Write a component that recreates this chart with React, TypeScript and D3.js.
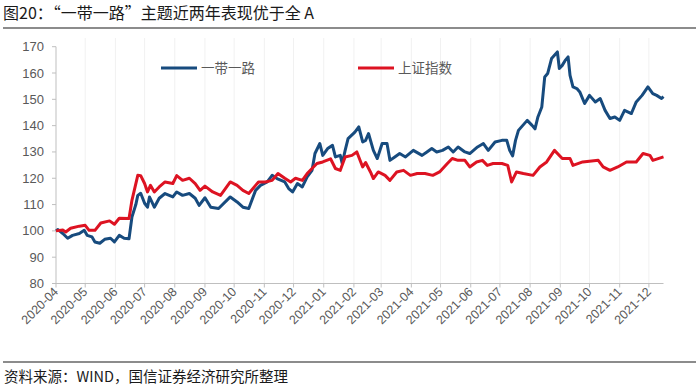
import React from "react";
import * as d3 from "d3";

// "一带一路" theme index (approx.)
const beltDates = [
  "2020-04-01", "2020-04-03", "2020-04-08", "2020-04-13", "2020-04-18", "2020-04-25", "2020-04-30",
  "2020-05-03", "2020-05-08", "2020-05-11", "2020-05-16", "2020-05-21", "2020-05-27", "2020-05-31",
  "2020-06-05", "2020-06-10", "2020-06-15", "2020-06-18", "2020-06-22", "2020-06-24", "2020-06-27",
  "2020-07-01", "2020-07-04", "2020-07-06", "2020-07-11", "2020-07-16", "2020-07-22", "2020-07-30",
  "2020-08-03", "2020-08-09", "2020-08-16", "2020-08-22", "2020-08-26", "2020-09-01", "2020-09-07",
  "2020-09-15", "2020-09-27", "2020-10-04", "2020-10-10", "2020-10-16", "2020-10-23", "2020-10-28",
  "2020-11-04", "2020-11-09", "2020-11-14", "2020-11-22", "2020-11-26", "2020-11-30", "2020-12-05",
  "2020-12-10", "2020-12-15", "2020-12-20", "2020-12-23", "2020-12-28", "2020-12-31", "2021-01-05",
  "2021-01-10", "2021-01-13", "2021-01-18", "2021-01-20", "2021-01-23", "2021-01-26", "2021-02-02",
  "2021-02-06", "2021-02-10", "2021-02-13", "2021-02-16", "2021-02-21", "2021-02-25", "2021-03-02",
  "2021-03-07", "2021-03-10", "2021-03-15", "2021-03-20", "2021-03-26", "2021-04-03", "2021-04-12",
  "2021-04-17", "2021-04-22", "2021-04-27", "2021-05-03", "2021-05-09", "2021-05-14", "2021-05-19",
  "2021-05-26", "2021-05-31", "2021-06-08", "2021-06-14", "2021-06-19", "2021-06-26", "2021-07-03",
  "2021-07-08", "2021-07-11", "2021-07-14", "2021-07-17", "2021-07-20", "2021-07-29", "2021-08-03",
  "2021-08-06", "2021-08-09", "2021-08-13", "2021-08-16", "2021-08-19", "2021-08-23", "2021-08-29",
  "2021-08-31", "2021-09-03", "2021-09-06", "2021-09-09", "2021-09-11", "2021-09-14", "2021-09-18",
  "2021-09-21", "2021-09-26", "2021-10-01", "2021-10-07", "2021-10-12", "2021-10-17", "2021-10-22",
  "2021-10-27", "2021-11-01", "2021-11-06", "2021-11-13", "2021-11-18", "2021-11-24", "2021-11-30",
  "2021-12-05", "2021-12-09", "2021-12-14", "2021-12-16",
];
const beltValues = [
  100, 100.5, 99, 97.2, 98.3, 99, 100.2,
  98.3, 97.7, 95.8, 95.3, 96.8, 97.2, 95.8,
  98.3, 97.2, 97, 105.3, 110, 113.5, 114.3,
  110.5, 109, 112.9, 109, 112.4, 114.2, 112.9,
  114.8, 113.5, 114.2, 112.4, 109.7, 112.6, 109,
  108.5, 112.9, 111, 109, 108.5, 115.4, 117.3,
  118.6, 121.1, 119.9, 118.6, 116.1, 114.8, 118,
  116.7, 120.5, 123, 129.4, 133.2, 128.7, 131.3,
  132.5, 128.1, 128.7, 125.6, 130.6, 135.1, 137.5,
  139.5, 133.8, 134.4, 137, 130.6, 127.5, 133.2,
  133.2, 126.8, 128.1, 129.4, 128.1, 130.6, 128.7,
  130, 131.3, 130, 130.6, 131.9, 130, 131.9,
  130, 129.4, 131.9, 133.2, 130.6, 133.8, 134.4,
  134.4, 130.6, 128.5, 134.4, 138.2, 142, 140.1,
  138.8, 143.3, 147.1, 158.5, 159.8, 165.5, 168,
  161.7, 162.9, 164.8, 166.1, 159.1, 154.7, 154.1,
  152.8, 148.4, 151.5, 149, 150.3, 145.8, 142.7,
  143.3, 142, 145.8, 144.6, 149, 151.5, 154.7,
  152.2, 151.5, 150.3, 151,
];

// 上证指数 rebased to 100
const shDates = [
  "2020-04-01", "2020-04-08", "2020-04-11", "2020-04-16", "2020-04-25", "2020-05-01", "2020-05-05",
  "2020-05-11", "2020-05-17", "2020-05-26", "2020-05-31", "2020-06-05", "2020-06-15", "2020-06-18",
  "2020-06-24", "2020-06-27", "2020-07-01", "2020-07-04", "2020-07-07", "2020-07-11", "2020-07-16",
  "2020-07-22", "2020-07-30", "2020-08-03", "2020-08-09", "2020-08-16", "2020-08-22", "2020-08-27",
  "2020-09-01", "2020-09-09", "2020-09-17", "2020-09-27", "2020-10-04", "2020-10-10", "2020-10-16",
  "2020-10-23", "2020-10-26", "2020-11-02", "2020-11-09", "2020-11-15", "2020-11-22", "2020-11-28",
  "2020-12-03", "2020-12-10", "2020-12-15", "2020-12-20", "2020-12-25", "2020-12-31", "2021-01-08",
  "2021-01-13", "2021-01-18", "2021-01-23", "2021-01-30", "2021-02-04", "2021-02-10", "2021-02-13",
  "2021-02-18", "2021-02-21", "2021-02-26", "2021-03-05", "2021-03-10", "2021-03-17", "2021-03-24",
  "2021-03-31", "2021-04-07", "2021-04-15", "2021-04-23", "2021-04-30", "2021-05-08", "2021-05-13",
  "2021-05-19", "2021-05-26", "2021-05-31", "2021-06-07", "2021-06-13", "2021-06-18", "2021-06-24",
  "2021-07-03", "2021-07-09", "2021-07-13", "2021-07-18", "2021-07-25", "2021-08-04", "2021-08-11",
  "2021-08-18", "2021-08-26", "2021-09-03", "2021-09-11", "2021-09-14", "2021-09-24", "2021-10-10",
  "2021-10-15", "2021-10-22", "2021-10-30", "2021-11-08", "2021-11-18", "2021-11-25", "2021-12-02",
  "2021-12-05", "2021-12-16",
];
const shValues = [
  100, 100.3, 99.6, 101, 101.8, 102.1, 100.2,
  100.2, 103, 103.8, 102.5, 104.8, 104.7, 111.6,
  121.1, 121, 118, 114.8, 117.3, 114.8, 116.7,
  118.6, 118, 121, 119.2, 120, 118, 115.4,
  117, 114.8, 113.5, 118.6, 117.3, 115.4, 114.2,
  117.3, 118.6, 118.6, 119.2, 121.8, 120, 118.6,
  120, 119.2, 121.8, 123.7, 125.6, 126.2, 127.4,
  123.7, 123, 128.1, 128.7, 130, 124.3, 126,
  122.4, 119.9, 122.4, 121.1, 119.2, 122.4, 123,
  121.1, 121.8, 121.8, 121.1, 122.4, 125.6, 127.5,
  126.8, 126.8, 124.3, 126.2, 126.8, 124.9, 125.6,
  125.6, 124.9, 118.6, 122.4, 121.8, 121.1, 124.3,
  126.2, 130.6, 127.5, 127.5, 124.9, 126.2, 126.8,
  124.3, 123, 124.3, 126.2, 126.2, 129.4, 128.7,
  126.8, 128.1,
];

const monthTicks = [
  "2020-04", "2020-05", "2020-06", "2020-07", "2020-08", "2020-09", "2020-10", "2020-11",
  "2020-12", "2021-01", "2021-02", "2021-03", "2021-04", "2021-05", "2021-06", "2021-07",
  "2021-08", "2021-09", "2021-10", "2021-11", "2021-12",
];
const yTicks = [80, 90, 100, 110, 120, 130, 140, 150, 160, 170];

const seriesNames = ["一带一路", "上证指数"];
const colors = ["#174b7e", "#dd1322"];

const latin = "'Liberation Sans', Arial, sans-serif";
const cjk = "'Noto Sans CJK SC', 'Liberation Sans', sans-serif";

const App = () => {
  const W = 700;
  const H = 390;
  const left = 56;
  const right = 663.5;
  const top = 46.7;
  const bottom = 283.5;

  const parseDay = d3.timeParse("%Y-%m-%d");
  const parseMonth = d3.timeParse("%Y-%m");

  const x = d3
    .scaleTime()
    .domain([parseDay("2020-04-01")!, parseDay("2021-12-16")!])
    .range([left, right]);
  const y = d3.scaleLinear().domain([80, 170]).range([bottom, top]);

  const belt = beltDates.map((d, i) => ({ date: parseDay(d)!, value: beltValues[i] }));
  const sh = shDates.map((d, i) => ({ date: parseDay(d)!, value: shValues[i] }));

  const line = d3
    .line<{ date: Date; value: number }>()
    .x((d) => x(d.date))
    .y((d) => y(d.value));

  const ticks = monthTicks.map((m) => ({ label: m, pos: x(parseMonth(m)!) }));

  return (
    <svg
      width={W}
      height={H}
      style={{ position: "absolute", left: 0, top: 0, background: "#fff" }}
    >
      {/* title */}
      <text x={3} y={19} fontFamily={cjk} fontSize={16} fill="#1a1a1a">
        图20：“一带一路”主题近两年表现优于全 A
      </text>
      <line x1={3} x2={696} y1={28} y2={28} stroke="#8c8c8c" strokeWidth={2} />

      {/* vertical grid */}
      {ticks.slice(1).map((t) => (
        <line key={"g" + t.label} x1={t.pos} x2={t.pos} y1={38} y2={bottom} stroke="#f1f1f1" />
      ))}

      {/* y axis */}
      <line x1={left} x2={left} y1={top} y2={bottom} stroke="#bfbfbf" />
      {yTicks.map((v) => (
        <g key={v}>
          <line x1={left - 4} x2={left} y1={y(v)} y2={y(v)} stroke="#bfbfbf" />
          <text
            x={44}
            y={y(v)}
            dy="0.35em"
            textAnchor="end"
            fontFamily={latin}
            fontSize={13}
            fill="#595959"
          >
            {v}
          </text>
        </g>
      ))}

      {/* x axis */}
      <line x1={left} x2={right} y1={bottom} y2={bottom} stroke="#bfbfbf" />
      {ticks.map((t) => (
        <g key={t.label}>
          <line x1={t.pos} x2={t.pos} y1={bottom} y2={bottom + 4} stroke="#bfbfbf" />
          <text
            transform={`translate(${t.pos + 3},${bottom + 9}) rotate(-45)`}
            textAnchor="end"
            fontFamily={latin}
            fontSize={12.5}
            fill="#595959"
          >
            {t.label}
          </text>
        </g>
      ))}

      {/* series */}
      <path d={line(belt) ?? ""} fill="none" stroke={colors[0]} strokeWidth={3} strokeLinejoin="round" />
      <path d={line(sh) ?? ""} fill="none" stroke={colors[1]} strokeWidth={3} strokeLinejoin="round" />

      {/* legend */}
      {seriesNames.map((name, i) => {
        const lx = i === 0 ? 161 : 358;
        return (
          <g key={name}>
            <line x1={lx} x2={lx + 36} y1={68} y2={68} stroke={colors[i]} strokeWidth={3} />
            <text x={lx + 40} y={68} dy="0.36em" fontFamily={cjk} fontSize={13.5} fill="#595959">
              {name}
            </text>
          </g>
        );
      })}

      {/* source */}
      <line x1={3} x2={696} y1={362} y2={362} stroke="#8c8c8c" strokeWidth={2} />
      <text x={4} y={382} fontFamily={cjk} fontSize={14.5} fill="#1a1a1a">
        资料来源：WIND，国信证券经济研究所整理
      </text>
    </svg>
  );
};

export default App;
